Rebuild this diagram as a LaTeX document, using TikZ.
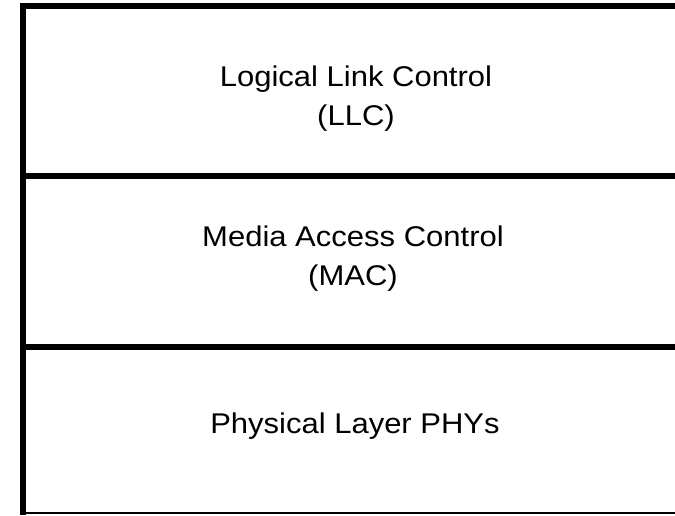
\documentclass[tikz,border=0pt]{standalone}
\usepackage{fontspec}
\setmainfont{Liberation Sans}
\begin{document}
\begin{tikzpicture}[x=1pt,y=-1pt,
  rule/.style={line width=6pt},
  thinrule/.style={line width=1.5pt},
  label/.style={align=center,inner sep=0pt,yscale=0.92,transform shape,
    font=\fontsize{31}{42.4}\selectfont}]
\useasboundingbox (0,0) rectangle (675,515);
\coordinate (tl) at (20,6);
\coordinate (tr) at (675,6);
\coordinate (lt) at (23,3);
\coordinate (lb) at (23,515);
\coordinate (m1l) at (23,175.5);
\coordinate (m1r) at (675,175.5);
\coordinate (m2l) at (23,347);
\coordinate (m2r) at (675,347);
\coordinate (bl) at (23,513);
\coordinate (br) at (675,513);
\draw[rule] (tl) -- (tr);
\draw[rule] (lt) -- (lb);
\draw[rule] (m1l) -- (m1r);
\draw[rule] (m2l) -- (m2r);
\draw[thinrule] (bl) -- (br);
\node[label] (llc) at (356,99) {Logical Link Control\\(LLC)};
\node[label] (mac) at (353,259) {Media Access Control\\(MAC)};
\node[label] (phy) at (355,426) {Physical Layer PHYs};
\end{tikzpicture}
\end{document}
